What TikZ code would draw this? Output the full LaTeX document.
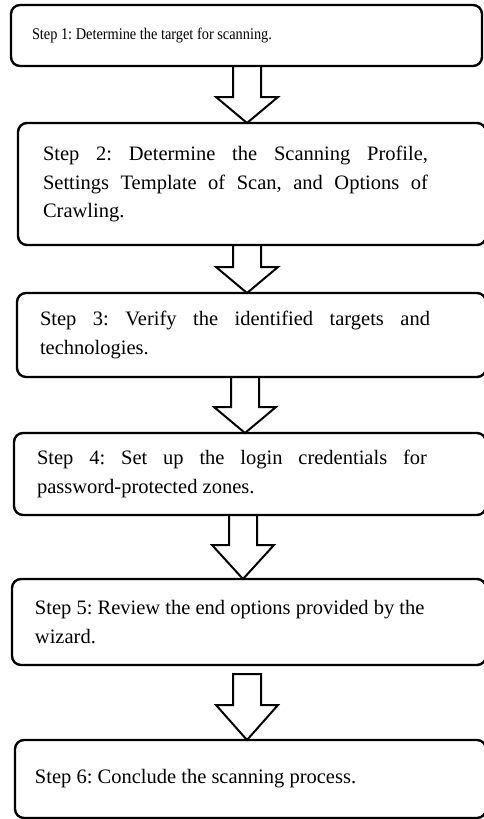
\documentclass[tikz,border=0pt]{standalone}
\usepackage{fontspec}
\setmainfont{Liberation Serif}
\newfontfamily\narrowserif[FakeStretch=0.88]{Liberation Serif}
\usetikzlibrary{positioning,calc}
\frenchspacing

\tikzset{
  stepbox/.style={draw, line width=2.4pt, rounded corners=9pt, inner sep=0pt, outer sep=0pt,
    anchor=north west, align=justify, font=\fontsize{20.5}{28.3}\selectfont},
  margins/.style 2 args={execute at begin node={\leftskip=#1\rightskip=#2\relax}},
  blockarrow/.style={draw, line width=2pt, fill=white, line join=miter}
}

% hollow down arrow: from, to, x shift, head length, gap below source
\newcommand{\flowarrow}[5]{%
  \draw[blockarrow] ($(#1.south -| ax)+(#3-14,-#5)$) -- ($(#2.north -| ax)+(#3-14,#4)$)
    -- ($(#2.north -| ax)+(#3-31,#4)$) -- ($(#2.north -| ax)+(#3,0)$)
    -- ($(#2.north -| ax)+(#3+31,#4)$) -- ($(#2.north -| ax)+(#3+14,#4)$)
    -- ($(#1.south -| ax)+(#3+14,-#5)$) -- cycle;
}

\begin{document}
\begin{tikzpicture}[x=1pt, y=1pt]
    \useasboundingbox (0,0) rectangle (483,-819);
    \coordinate (ax) at (247,0);

    \node (s1) [stepbox, text width=471pt, minimum height=61pt, margins={21pt}{0pt},
      font=\narrowserif\fontsize{16.3}{19}\selectfont] at (11,-5) {Step 1: Determine the target for scanning.};
    \node (s2) [stepbox, below=57pt of s1.south west, anchor=north west, xshift=7pt,
      text width=468pt, minimum height=122pt, margins={25pt}{58pt}]
      {Step 2: Determine the Scanning Profile,\linebreak Settings Template of Scan, and Options of\linebreak Crawling.};
    \node (s3) [stepbox, below=48pt of s2.south west, anchor=north west, xshift=-1pt,
      text width=469pt, minimum height=84pt, margins={23pt}{56pt}]
      {Step 3: Verify the identified targets and\linebreak technologies.};
    \node (s4) [stepbox, below=56pt of s3.south west, anchor=north west, xshift=-3pt,
      text width=472pt, minimum height=82pt, margins={23pt}{59pt}]
      {Step 4: Set up the login credentials for\linebreak password-protected zones.};
    \node (s5) [stepbox, below=64pt of s4.south west, anchor=north west, xshift=-2pt,
      text width=474pt, minimum height=86pt, margins={23pt}{50pt plus 1fil}]
      {Step 5: Review the end options provided by the\newline wizard.};
    \node (s6) [stepbox, below=75pt of s5.south west, anchor=north west, xshift=3pt,
      text width=471pt, minimum height=78pt, margins={20pt}{0pt}]
      {Step 6: Conclude the scanning process.};

    \flowarrow{s1}{s2}{0}{26}{0}
    \flowarrow{s2}{s3}{0}{26}{0}
    \flowarrow{s3}{s4}{-2}{26}{0}
    \flowarrow{s4}{s5}{-4}{34}{0}
    \flowarrow{s5}{s6}{0}{35}{9}
\end{tikzpicture}
\end{document}
